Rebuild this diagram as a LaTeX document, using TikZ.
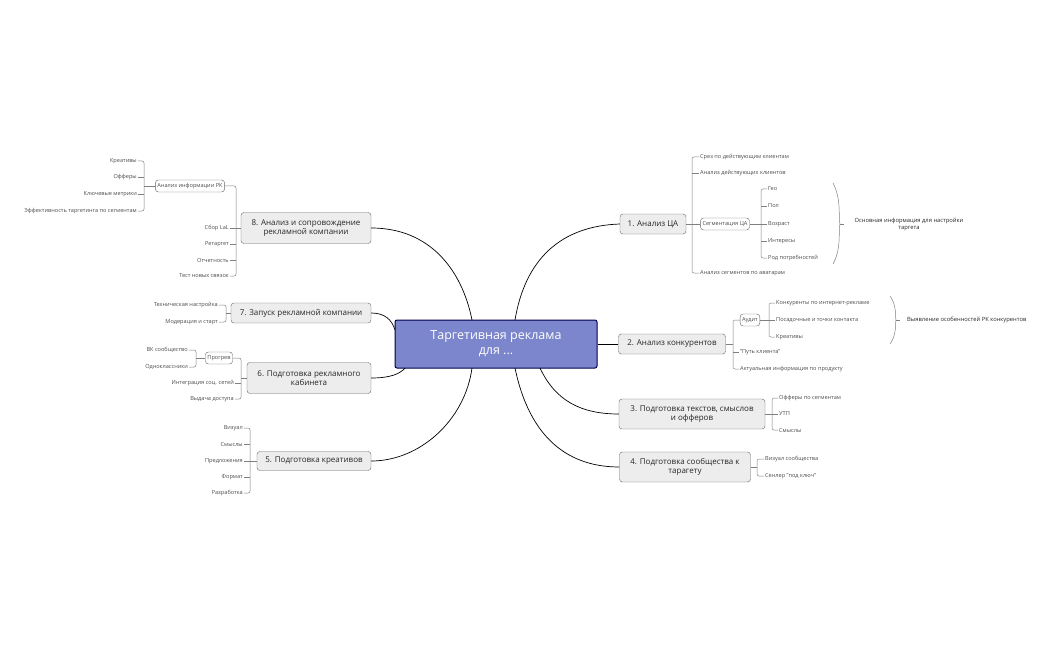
\documentclass[tikz,border=0pt]{standalone}
\usepackage{fontspec}
\setmainfont{Open Sans}
\begin{document}
\begin{tikzpicture}[x=1pt,y=-1pt,
  leaf/.style={font=\fontsize{5.6}{7}\selectfont,text=black!70,inner sep=1pt},
  sub/.style={font=\fontsize{5.6}{7}\selectfont,text=black!70,draw=black!60,rounded corners=3pt,inner sep=2pt,minimum height=12pt},
  topic/.style={font=\fontsize{8}{9.5}\selectfont,text=black!85,draw=black!60,fill=black!7,rounded corners=3pt,align=center,inner sep=2pt},
  br/.style={draw=black!50,line width=0.5pt},
  con/.style={draw=black,line width=0.7pt}]
\useasboundingbox (0,0) rectangle (1050,650);
\node[draw=blue!30!black,line width=1pt,fill={rgb,255:red,123;green,134;blue,204},rounded corners=2pt,minimum width=202pt,minimum height=48pt,align=center,text=white,font=\fontsize{12.5}{15}\selectfont] (c) at (496,344) {Таргетивная реклама\\для ...};
% topics
\node[topic,minimum width=66pt,minimum height=20pt] (t1) at (653,224) {1. Анализ ЦА};
\node[topic,minimum width=107pt,minimum height=20pt] (t2) at (672,344) {2. Анализ конкурентов};
\node[topic,minimum width=146pt,minimum height=30pt] (t3) at (692,414) {3. Подготовка текстов, смыслов\\и офферов};
\node[topic,minimum width=131pt,minimum height=30pt] (t4) at (685,467) {4. Подготовка сообщества к\\тарагету};
\node[topic,minimum width=114pt,minimum height=19pt] (t5) at (314,461) {5. Подготовка креативов};
\node[topic,minimum width=124pt,minimum height=31pt] (t6) at (309,378) {6. Подготовка рекламного\\кабинета};
\node[topic,minimum width=140pt,minimum height=20pt] (t7) at (301,313) {7. Запуск рекламной компании};
\node[topic,minimum width=130pt,minimum height=31pt] (t8) at (306,228) {8. Анализ и сопровождение\\рекламной компании};
% main connectors
\coordinate (c1) at (515,320); \coordinate (c3) at (540,368); \coordinate (c4) at (515,368);
\coordinate (c8) at (472,320); \coordinate (c7) at (395,330); \coordinate (c6) at (405,368); \coordinate (c5) at (472,368);
\draw[con] (t1.west) .. controls (560,226) and (525,260) .. (c1);
\draw[con] (c.east) -- (t2.west);
\draw[con] (c3) .. controls (555,400) and (580,414) .. (t3.west);
\draw[con] (c4) .. controls (530,440) and (570,467) .. (t4.west);
\draw[con] (t8.east) .. controls (430,228) and (462,270) .. (c8);
\draw[con] (t7.east) .. controls (385,313) and (392,320) .. (c7);
\draw[con] (t6.east) .. controls (390,378) and (400,374) .. (c6);
\draw[con] (t5.east) .. controls (420,461) and (465,420) .. (c5);
% ---- topic 1
\node[leaf,anchor=west] (a1) at (699,157) {Срез по действующим клиентам};
\node[leaf,anchor=west] (a2) at (699,173) {Анализ действующих клиентов};
\node[sub] (s1) at (725,224) {Сегментация ЦА};
\node[leaf,anchor=west] (a4) at (699,273) {Анализ сегментов по аватарам};
\draw[br,rounded corners=2pt] (a1.west) -- (692,157) -- (692,273) -- (a4.west);
\draw[br] (a2.west) -- (692,173); \draw[br] (t1.east) -- (s1.west);
\node[leaf,anchor=west] (g1) at (767,189) {Гео};
\node[leaf,anchor=west] (g2) at (767,206) {Пол};
\node[leaf,anchor=west] (g3) at (767,224) {Возраст};
\node[leaf,anchor=west] (g4) at (767,241) {Интересы};
\node[leaf,anchor=west] (g5) at (767,258) {Род потребностей};
\draw[br,rounded corners=2pt] (g1.west) -- (761,189) -- (761,258) -- (g5.west);
\draw[br] (g2.west) -- (761,206); \draw[br] (s1.east) -- (g3.west); \draw[br] (g4.west) -- (761,241);
\draw[br] (833,183) .. controls (842,200) and (838,220) .. (840,224) .. controls (838,228) and (842,248) .. (833,264);
\draw[br] (840,224) -- (844,224);
\node[leaf,text=black!85,align=center,font=\fontsize{5.8}{7}\selectfont] (n1) at (909,224) {Основная информация для настройки\\таргета};
% ---- topic 2
\node[sub] (s2) at (750,320) {Аудит};
\node[leaf,anchor=west] (b2) at (739,352) {"Путь клиента"};
\node[leaf,anchor=west] (b3) at (739,369) {Актуальная информация по продукту};
\draw[br,rounded corners=2pt] (s2.west) -- (733,320) -- (733,369) -- (b3.west);
\draw[br] (t2.east) -- (733,344); \draw[br] (b2.west) -- (733,352);
\node[leaf,anchor=west] (d1) at (775,303) {Конкуренты по интернет-рекламе};
\node[leaf,anchor=west] (d2) at (775,320) {Посадочные и точки контакта};
\node[leaf,anchor=west] (d3) at (775,337) {Креативы};
\draw[br,rounded corners=2pt] (d1.west) -- (769,303) -- (769,337) -- (d3.west);
\draw[br] (s2.east) -- (d2.west);
\draw[br] (890,296) .. controls (897,306) and (895,316) .. (896,320) .. controls (895,324) and (897,334) .. (890,344);
\draw[br] (896,320) -- (900,320);
\node[leaf,text=black!85,anchor=west,font=\fontsize{5.8}{7}\selectfont] (n2) at (906,320) {Выявление особенностей РК конкурентов};
% ---- topic 3
\node[leaf,anchor=west] (e1) at (778,398) {Офферы по сегментам};
\node[leaf,anchor=west] (e2) at (778,414) {УТП};
\node[leaf,anchor=west] (e3) at (778,430) {Смыслы};
\draw[br,rounded corners=2pt] (e1.west) -- (772,398) -- (772,430) -- (e3.west);
\draw[br] (t3.east) -- (e2.west);
% ---- topic 4
\node[leaf,anchor=west] (f1) at (764,459) {Визуал сообщества};
\node[leaf,anchor=west] (f2) at (764,476) {Сенлер "под ключ"};
\draw[br,rounded corners=2pt] (f1.west) -- (757,459) -- (757,476) -- (f2.west);
\draw[br] (t4.east) -- (757,467);
% ---- topic 8
\node[sub] (s8) at (190,186) {Анализ информации РК};
\node[leaf,anchor=east] (h2) at (230,228) {Сбор LaL};
\node[leaf,anchor=east] (h3) at (230,244) {Ретаргет};
\node[leaf,anchor=east] (h4) at (230,260) {Отчетность};
\node[leaf,anchor=east] (h5) at (230,276) {Тест новых связок};
\draw[br,rounded corners=2pt] (s8.east) -- (236,186) -- (236,276) -- (h5.east);
\draw[br] (t8.west) -- (236,228); \draw[br] (h2.east) -- (236,228);
\draw[br] (h3.east) -- (236,244); \draw[br] (h4.east) -- (236,260);
\node[leaf,anchor=east] (k1) at (138,161) {Креативы};
\node[leaf,anchor=east] (k2) at (138,177) {Офферы};
\node[leaf,anchor=east] (k3) at (138,194) {Ключевые метрики};
\node[leaf,anchor=east] (k4) at (138,211) {Эффективность таргетинга по сегментам};
\draw[br,rounded corners=2pt] (k1.east) -- (144,161) -- (144,211) -- (k4.east);
\draw[br] (k2.east) -- (144,177); \draw[br] (k3.east) -- (144,194); \draw[br] (s8.west) -- (144,186);
% ---- topic 7
\node[leaf,anchor=east] (m1) at (219,305) {Техническая настройка};
\node[leaf,anchor=east] (m2) at (219,322) {Модерация и старт};
\draw[br,rounded corners=2pt] (m1.east) -- (226,305) -- (226,322) -- (m2.east);
\draw[br] (t7.west) -- (226,313);
% ---- topic 6
\node[sub] (s6) at (219,358) {Прогрев};
\node[leaf,anchor=east] (p3) at (235,383) {Интеграция соц. сетей};
\node[leaf,anchor=east] (p4) at (235,399) {Выдача доступа};
\draw[br,rounded corners=2pt] (s6.east) -- (241,358) -- (241,399) -- (p4.east);
\draw[br] (t6.west) -- (241,378); \draw[br] (p3.east) -- (241,383);
\node[leaf,anchor=east] (q1) at (189,350) {ВК сообщество};
\node[leaf,anchor=east] (q2) at (189,367) {Одноклассники};
\draw[br,rounded corners=2pt] (q1.east) -- (196,350) -- (196,367) -- (q2.east);
\draw[br] (s6.west) -- (196,358);
% ---- topic 5
\node[leaf,anchor=east] (r1) at (244,428) {Визуал};
\node[leaf,anchor=east] (r2) at (244,444) {Смыслы};
\node[leaf,anchor=east] (r3) at (244,461) {Предложения};
\node[leaf,anchor=east] (r4) at (244,477) {Формат};
\node[leaf,anchor=east] (r5) at (244,493) {Разработка};
\draw[br,rounded corners=2pt] (r1.east) -- (250,428) -- (250,493) -- (r5.east);
\draw[br] (r2.east) -- (250,444); \draw[br] (r4.east) -- (250,477);
\draw[br] (t5.west) -- (r3.east);
\end{tikzpicture}
\end{document}
